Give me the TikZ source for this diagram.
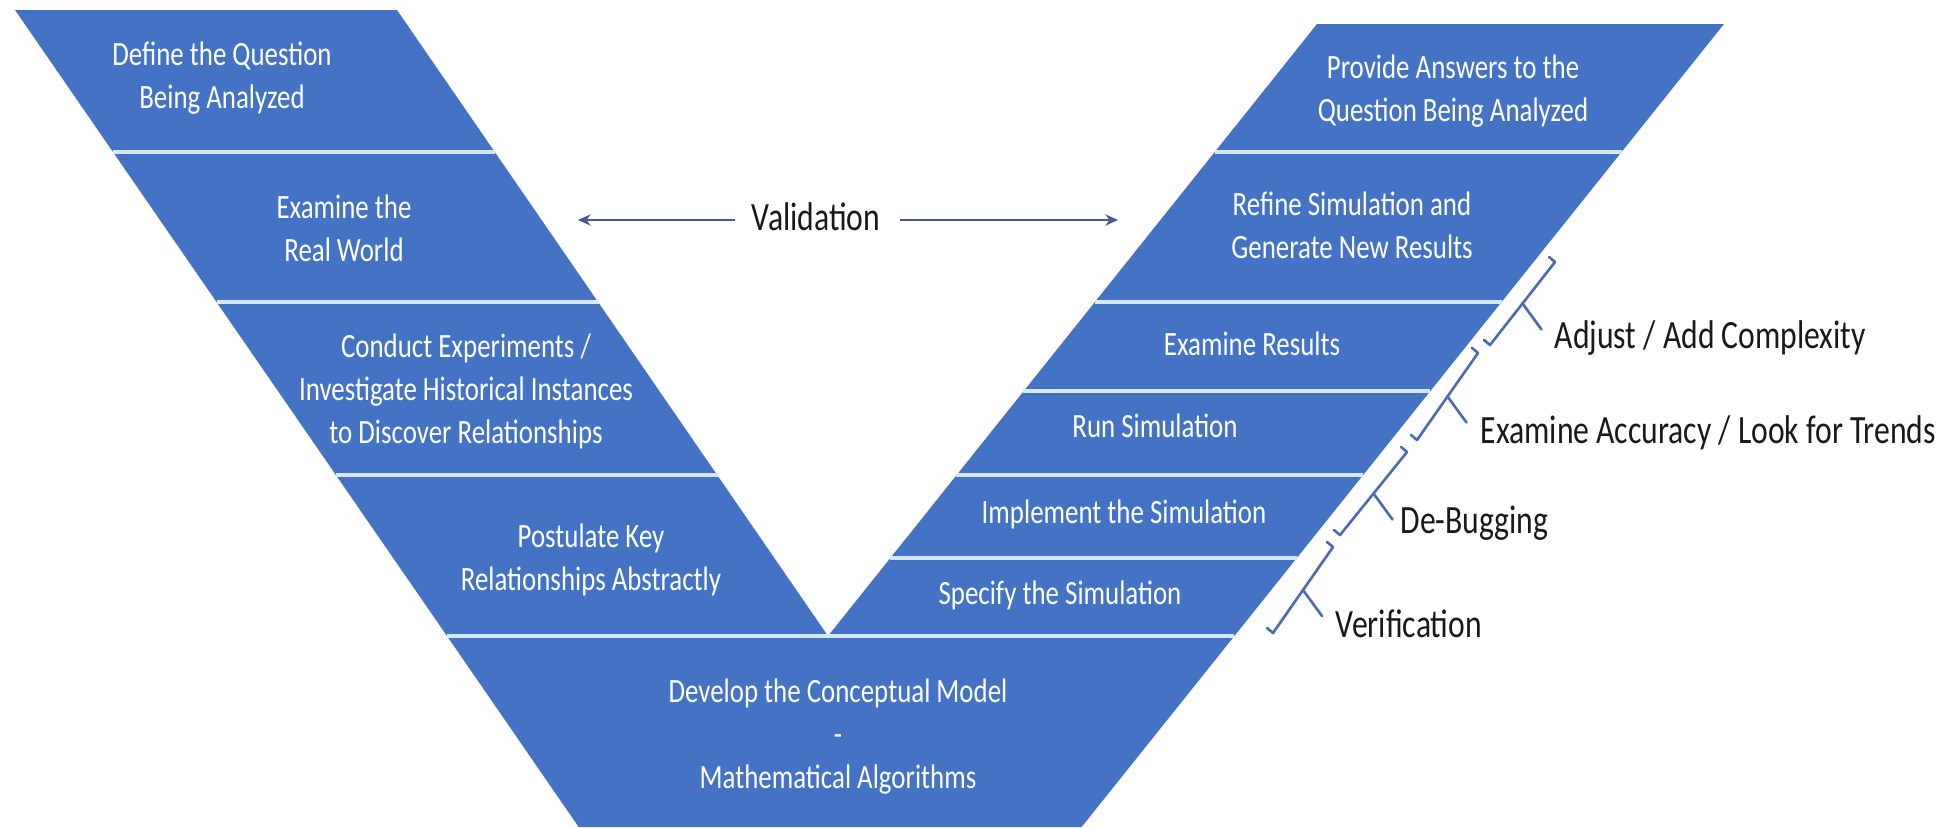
\documentclass[tikz,border=0pt]{standalone}
\usepackage{fontspec}
\setmainfont{Carlito}
\usepackage{graphicx}
\usetikzlibrary{arrows.meta,calc}
\definecolor{band}{HTML}{4472C4}
\definecolor{sep}{HTML}{D6E6F4}
\definecolor{arrowc}{HTML}{4A5A88}
\definecolor{brk}{HTML}{4F6CAA}
\newcommand{\bandtext}[1]{\scalebox{0.79}[1]{\fontsize{9.68}{12.24}\selectfont\begin{tabular}[t]{@{}c@{}}#1\end{tabular}}}
\newcommand{\lbltext}[1]{\scalebox{0.79}[1]{\fontsize{11.4}{13.7}\selectfont #1}}
\begin{document}
\begin{tikzpicture}[x=0.01cm,y=-0.01cm,
  bt/.style={text=white, inner sep=0, anchor=base},
  lb/.style={text=black!90, inner sep=0, anchor=base west},
  bandfill/.style={fill=band, draw=none},
  sepline/.style={draw=sep, line width=1.1pt},
  arr/.style={draw=arrowc, line width=0.7pt, -{Stealth[length=3.6pt,width=3.2pt]}},
  brack/.style={draw=brk, line width=0.75pt, line cap=round, line join=round}]
\useasboundingbox (0,0) rectangle (1952,827);
% left arm
\coordinate (l0a) at (15,10);    \coordinate (l0b) at (397,10);
\coordinate (l1a) at (113,152);  \coordinate (l1b) at (495,152);
\coordinate (l2a) at (216.5,302);\coordinate (l2b) at (598.5,302);
\coordinate (l3a) at (335.9,475);\coordinate (l3b) at (717.9,475);
\coordinate (l4a) at (447,636);  \coordinate (vtx) at (828,636);
% right arm
\coordinate (r0a) at (1317,24);    \coordinate (r0b) at (1724,24);
\coordinate (r1a) at (1214.6,152); \coordinate (r1b) at (1621.6,152);
\coordinate (r2a) at (1094.6,302); \coordinate (r2b) at (1501.6,302);
\coordinate (r3a) at (1023.4,391); \coordinate (r3b) at (1430.4,391);
\coordinate (r4a) at (956.2,475);  \coordinate (r4b) at (1363.2,475);
\coordinate (r5a) at (889.8,558);  \coordinate (r5b) at (1296.8,558);
\coordinate (r6b) at (1234.4,636);
% bottom
\coordinate (b1a) at (578.7,827); \coordinate (b1b) at (1081.6,827);

\path[bandfill] (l0a) -- (l0b) -- (vtx) -- (l4a) -- cycle;
\path[bandfill] (r0a) -- (r0b) -- (r6b) -- (vtx) -- cycle;
\path[bandfill] (l4a) -- (r6b) -- (b1b) -- (b1a) -- cycle;

\draw[sepline] (l1a) -- (l1b);
\draw[sepline] (l2a) -- (l2b);
\draw[sepline] (l3a) -- (l3b);
\draw[sepline] (r1a) -- (r1b);
\draw[sepline] (r2a) -- (r2b);
\draw[sepline] (r3a) -- (r3b);
\draw[sepline] (r4a) -- (r4b);
\draw[sepline] (r5a) -- (r5b);
\draw[sepline] (l4a) -- (r6b);

% band texts
\node[bt] (define) at (222,65) {\bandtext{Define the Question\\Being Analyzed}};
\node[bt] (realw) at (344,218) {\bandtext{Examine the\\Real World}};
\node[bt] (conduct) at (466,357) {\bandtext{Conduct Experiments /\\Investigate Historical Instances\\to Discover Relationships}};
\node[bt] (postulate) at (591,547) {\bandtext{Postulate Key\\Relationships Abstractly}};
\node[bt] (develop) at (838,702) {\bandtext{Develop the Conceptual Model\\-\\Mathematical Algorithms}};
\node[bt] (provide) at (1453,78) {\bandtext{Provide Answers to the\\Question Being Analyzed}};
\node[bt] (refine) at (1352,215) {\bandtext{Refine Simulation and\\Generate New Results}};
\node[bt] (exres) at (1252,355) {\bandtext{Examine Results}};
\node[bt] (runsim) at (1155,437) {\bandtext{Run Simulation}};
\node[bt] (impl) at (1124,523) {\bandtext{Implement the Simulation}};
\node[bt] (spec) at (1060,604) {\bandtext{Specify the Simulation}};

% validation
\node[text=black!90, inner sep=0, anchor=base] (val) at (816,230) {\lbltext{Validation}};
\coordinate (vls) at (735,220); \coordinate (vle) at (578,220);
\coordinate (vrs) at (900,220); \coordinate (vre) at (1118,220);
\draw[arr] (vls) -- (vle);
\draw[arr] (vrs) -- (vre);

% brackets
\coordinate (t1) at (1555,262); \coordinate (u1) at (1490,345);
\coordinate (t2) at (1478,353); \coordinate (u2) at (1417,440);
\coordinate (t3) at (1407,452); \coordinate (u3) at (1340,535);
\coordinate (t4) at (1333,547); \coordinate (u4) at (1273,633);
\foreach \k in {1,2,3,4}{
  \draw[brack] (t\k) ++(-6,-5) -- (t\k) -- (u\k) -- ++(-6,-5);
  \draw[brack] ($(t\k)!0.5!(u\k)$) -- ++(19,26);
}
\node[lb] (adj) at (1554,348) {\lbltext{Adjust / Add Complexity}};
\node[lb] (acc) at (1480,443) {\lbltext{Examine Accuracy / Look for Trends}};
\node[lb] (dbg) at (1400,533) {\lbltext{De-Bugging}};
\node[lb] (ver) at (1335,637) {\lbltext{Verification}};
\end{tikzpicture}
\end{document}
